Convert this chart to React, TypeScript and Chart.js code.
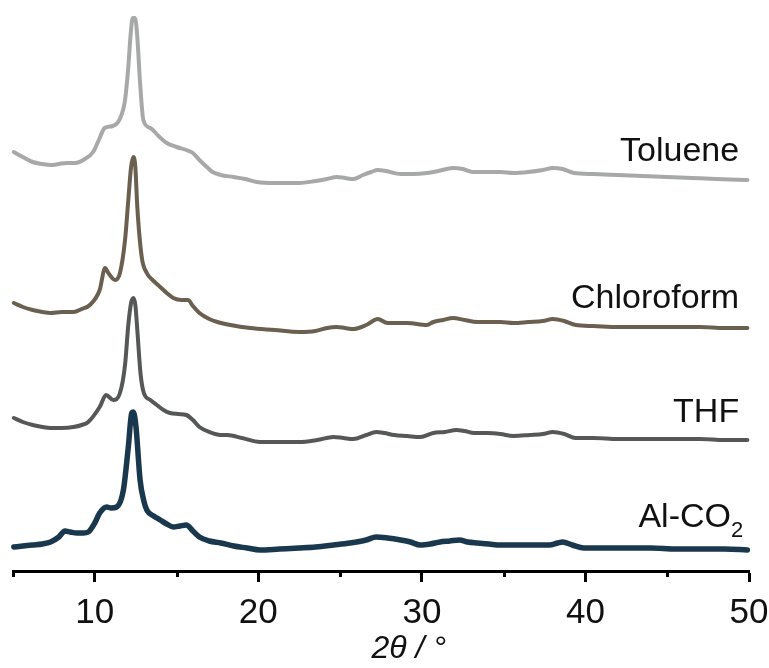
import React, { useEffect, useRef } from "react";
import { Chart, registerables } from "chart.js";

Chart.register(...registerables);

// 2θ positions (deg) and intensities (a.u., relative to each trace's own offset)
const tolueneX = [5.05, 5.6, 6.2, 6.8, 7.3, 7.8, 8.3, 8.8, 9.3, 9.9, 10.3, 10.6, 11.1, 11.5, 11.85, 12.05, 12.2, 12.32, 12.46, 12.6, 12.77, 12.97, 13.4, 13.9, 14.4, 15.0, 15.6, 16.0, 16.4, 16.85, 17.2, 17.7, 18.5, 19.2, 19.9, 21.0, 22.5, 23.5, 24.2, 24.8, 25.3, 25.8, 26.4, 26.9, 27.3, 27.8, 28.7, 29.5, 30.3, 31.0, 31.9, 32.5, 33.1, 34.0, 34.8, 35.6, 36.5, 37.4, 38.0, 38.6, 39.3, 40.5, 42.0, 43.5, 45.0, 46.5, 48.0, 49.9];
const tolueneY = [34, 29, 24, 22, 21, 22, 23, 23, 26, 34, 48, 58, 60, 66, 86, 119, 153, 168, 168, 149, 103, 66, 58, 50, 43, 39, 36, 33, 26, 19, 14, 11, 9, 7, 4, 3, 3, 5, 7, 9, 8, 7, 11, 14, 16, 15, 12, 12, 13, 15, 18, 17, 14, 14, 14, 13, 14, 16, 18, 17, 13, 12, 11, 10, 9, 8, 7, 6];

const chloroformX = [5.05, 5.6, 6.2, 6.8, 7.3, 8.0, 8.7, 9.2, 9.7, 10.3, 10.63, 10.83, 11.24, 11.54, 11.85, 12.05, 12.22, 12.36, 12.48, 12.6, 12.87, 13.18, 13.6, 14.0, 14.4, 14.8, 15.3, 15.7, 16.0, 16.4, 17.0, 17.5, 18.3, 19.5, 21.0, 22.5, 23.5, 24.2, 24.8, 25.3, 25.8, 26.6, 27.3, 27.9, 28.5, 29.1, 30.3, 30.7, 31.3, 31.9, 32.6, 33.4, 34.2, 34.8, 35.6, 36.5, 37.4, 38.0, 38.7, 39.4, 40.5, 42.0, 43.5, 45.0, 47.0, 48.5, 49.9];
const chloroformY = [33, 29, 26, 24, 23, 24, 24, 27, 31, 46, 68, 63, 56, 63, 96, 136, 169, 179, 169, 129, 79, 63, 55, 49, 43, 38, 36, 36, 30, 23, 17, 14, 11, 8, 6, 4, 5, 8, 9, 8, 7, 11, 17, 13, 13, 13, 11, 14, 16, 18, 16, 14, 14, 14, 13, 14, 15, 17, 15, 11, 10, 9, 9, 9, 9, 8, 8];

const thfX = [5.05, 5.6, 6.2, 6.8, 7.3, 8.0, 8.7, 9.2, 9.6, 10.3, 10.69, 11.13, 11.54, 11.85, 12.05, 12.22, 12.36, 12.48, 12.6, 12.8, 13.0, 13.4, 13.8, 14.2, 14.6, 15.1, 15.6, 16.0, 16.4, 17.0, 17.7, 18.1, 19.0, 20.1, 21.3, 22.5, 23.6, 24.6, 25.2, 25.8, 26.6, 27.2, 27.7, 28.3, 29.1, 29.9, 30.7, 31.4, 32.1, 32.6, 33.2, 34.0, 34.8, 35.6, 36.6, 37.4, 38.0, 38.7, 39.4, 40.5, 42.0, 43.5, 45.0, 47.0, 48.5, 49.9];
const thfY = [28, 24, 21, 19, 18, 18, 19, 21, 24, 39, 51, 46, 53, 81, 121, 143, 148, 141, 116, 72, 53, 46, 41, 36, 33, 32, 31, 26, 19, 14, 11, 11, 8, 4, 4, 4, 6, 9, 8, 7, 11, 14, 13, 11, 10, 9, 13, 14, 16, 15, 13, 13, 12, 10, 11, 12, 14, 12, 8, 8, 7, 7, 7, 7, 6, 6];

const alco2X = [5.05, 5.6, 6.2, 6.8, 7.3, 7.8, 8.18, 8.5, 8.9, 9.3, 9.6, 10.0, 10.3, 10.73, 11.0, 11.34, 11.75, 12.05, 12.26, 12.36, 12.52, 12.77, 13.0, 13.18, 13.6, 14.0, 14.4, 14.8, 15.2, 15.6, 16.0, 16.4, 17.0, 17.7, 18.5, 19.3, 20.1, 21.3, 22.5, 23.5, 24.6, 25.6, 26.6, 27.2, 27.9, 28.7, 29.3, 29.9, 30.5, 31.1, 31.7, 32.3, 32.8, 33.4, 34.1, 34.8, 35.8, 36.8, 37.8, 38.3, 38.6, 39.2, 39.9, 41.0, 42.5, 44.0, 45.5, 47.0, 48.5, 49.9];
const alco2Y = [9, 10, 11, 12, 14, 19, 25, 24, 23, 23, 24, 33, 43, 49, 48, 49, 66, 109, 143, 144, 129, 76, 55, 46, 40, 36, 32, 29, 30, 31, 25, 19, 15, 13, 10, 8, 6, 7, 8, 9, 11, 13, 16, 19, 18, 16, 14, 11, 12, 14, 15, 16, 14, 13, 12, 11, 11, 11, 11, 13, 14, 11, 8, 8, 8, 8, 7, 7, 7, 6];

const seriesNames = ["Toluene", "Chloroform", "THF", "Al-CO2"];
const seriesOffsets = [385, 235, 125, 15];
const seriesColors = ["#a7a9a8", "#6b5f50", "#555857", "#19384d"];
const seriesWidths = [4, 4, 4, 5.5];

const xTicksMajor = [10, 20, 30, 40, 50];
const xTicksMinor = [5, 15, 25, 35, 45];
const xAxisTitle = "2θ / °";

// label anchor (x in deg, y in a.u. above trace offset)
const labelAnchorX = 49.4;
const labelLift = [25, 28, 24, 29];
const titleCenterX = 29.2;

export default function App() {
  const ref = useRef<HTMLCanvasElement>(null);

  useEffect(() => {
    const canvas = ref.current;
    if (!canvas) return;
    const xs = [tolueneX, chloroformX, thfX, alco2X];
    const ys = [tolueneY, chloroformY, thfY, alco2Y];

    const datasets = seriesNames.map((name, i) => ({
      label: name,
      data: xs[i].map((x, j) => ({ x, y: ys[i][j] + seriesOffsets[i] })),
      borderColor: seriesColors[i],
      borderWidth: seriesWidths[i],
      pointRadius: 0,
      fill: false,
      cubicInterpolationMode: "monotone" as const,
      borderJoinStyle: "round" as const,
      borderCapStyle: "round" as const,
      clip: false as any,
    }));

    const decor = {
      id: "decor",
      afterDraw(chart: any) {
        const { ctx, scales } = chart;
        const xs = scales.x;
        const ysc = scales.y;
        ctx.save();
        // minor ticks
        ctx.strokeStyle = "#000";
        ctx.lineWidth = 3;
        const yb = chart.chartArea.bottom;
        xTicksMinor.forEach((v) => {
          const px = Math.round(xs.getPixelForValue(v)) + 0.5;
          ctx.beginPath();
          ctx.moveTo(px, yb);
          ctx.lineTo(px, yb + 6);
          ctx.stroke();
        });
        // axis title
        ctx.fillStyle = "#111";
        ctx.font = 'italic 32px "Liberation Sans", Arial, sans-serif';
        ctx.textAlign = "center";
        ctx.textBaseline = "middle";
        ctx.fillText(xAxisTitle, xs.getPixelForValue(titleCenterX), xs.bottom - 19);
        // series labels
        ctx.textBaseline = "alphabetic";
        const right = xs.getPixelForValue(labelAnchorX);
        seriesNames.forEach((name, i) => {
          const py = ysc.getPixelForValue(seriesOffsets[i] + labelLift[i]);
          const big = '34px "Liberation Sans", Arial, sans-serif';
          const small = '22px "Liberation Sans", Arial, sans-serif';
          if (name === "Al-CO2") {
            ctx.font = small;
            ctx.textAlign = "right";
            const w2 = ctx.measureText("2").width;
            ctx.fillText("2", right + 4, py + 10);
            ctx.font = big;
            ctx.fillText("Al-CO", right + 4 - w2, py);
          } else {
            ctx.font = big;
            ctx.textAlign = "right";
            ctx.fillText(name, right, py);
          }
        });
        ctx.restore();
      },
    };

    const chart = new Chart(canvas, {
      type: "line",
      data: { datasets },
      options: {
        responsive: false,
        animation: false,
        events: [],
        layout: { padding: { left: 13, right: 0, top: 0, bottom: 0 } },
        plugins: { legend: { display: false }, tooltip: { enabled: false } },
        scales: {
          x: {
            type: "linear",
            min: 5,
            max: 50,
            afterFit: (s: any) => {
              s.height = 97;
              s.paddingRight = 20;
              s.paddingLeft = 0;
            },
            afterBuildTicks: (s: any) => {
              s.ticks = [...xTicksMinor, ...xTicksMajor]
                .sort((a, b) => a - b)
                .map((v) => ({ value: v }));
            },
            ticks: {
              autoSkip: false,
              maxRotation: 0,
              padding: 10,
              color: "#111",
              font: { family: '"Liberation Sans", Arial, sans-serif', size: 35 },
              callback: (v: any) => (Number(v) % 10 === 0 ? String(v) : ""),
            },
            grid: {
              display: true,
              drawOnChartArea: false,
              drawTicks: true,
              tickLength: 11,
              tickWidth: 3,
              tickColor: (c: any) =>
                c.tick && c.tick.value % 10 === 0 ? "#000" : "rgba(0,0,0,0)",
            },
            border: { display: true, color: "#000", width: 3 },
            title: { display: false },
          },
          y: { type: "linear", display: false, min: 0, max: 571 },
        },
      },
      plugins: [decor],
    });
    return () => chart.destroy();
  }, []);

  return (
    <div style={{ position: "fixed", left: 0, top: 0, width: 769, height: 668, background: "#fff" }}>
      <canvas ref={ref} width={769} height={668} style={{ display: "block" }} />
    </div>
  );
}
